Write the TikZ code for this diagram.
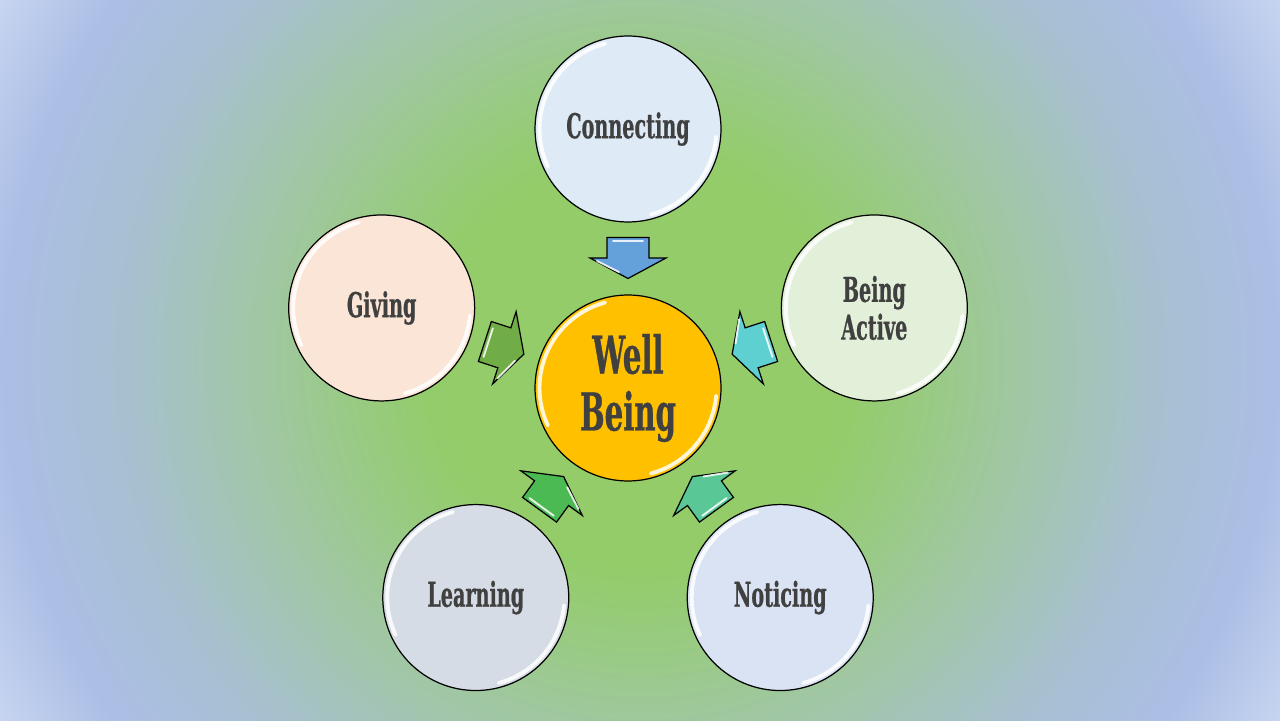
\documentclass[tikz,border=0pt]{standalone}
\usepackage{fontspec}
\newfontfamily\lblfont{DejaVu Serif}[FakeStretch=0.56, FakeBold=0.6]
\definecolor{bgA}{RGB}{147,204,105}
\definecolor{bgB}{RGB}{152,203,128}
\definecolor{bgC}{RGB}{160,199,160}
\definecolor{bgD}{RGB}{167,192,208}
\definecolor{bgE}{RGB}{172,190,230}
\definecolor{bgF}{RGB}{200,214,240}
\definecolor{txt}{RGB}{64,64,64}
\definecolor{cConn}{RGB}{222,235,247}
\definecolor{cGive}{RGB}{251,229,214}
\definecolor{cActive}{RGB}{226,240,217}
\definecolor{cLearn}{RGB}{214,220,229}
\definecolor{cNotice}{RGB}{218,227,243}
\definecolor{cCore}{RGB}{255,192,0}
\definecolor{aConn}{RGB}{100,160,218}
\definecolor{aGive}{RGB}{112,173,71}
\definecolor{aActive}{RGB}{95,208,210}
\definecolor{aLearn}{RGB}{76,186,82}
\definecolor{aNotice}{RGB}{90,200,150}
\pgfdeclareradialshading{bgshade}{\pgfpoint{0bp}{0bp}}{%
  color(0bp)=(bgA); color(7bp)=(bgA); color(9.5bp)=(bgB); color(12.5bp)=(bgC);
  color(17.5bp)=(bgD); color(21.5bp)=(bgE); color(25bp)=(bgF); color(50bp)=(bgF)}
\tikzset{
  ring/.style={circle, draw=black, line width=0.7pt, minimum size=3.72cm, inner sep=0pt,
    align=center, text=txt, font=\lblfont\bfseries\fontsize{19.5}{21.5}\selectfont},
  core/.style={circle, draw=black, line width=0.7pt, minimum size=3.72cm, inner sep=0pt,
    fill=cCore, align=center, text=txt, font=\lblfont\bfseries\fontsize{29.7}{32.4}\selectfont},
  blk/.style={draw=black, line width=0.7pt, line join=miter},
  gloss/.style={white, line width=2.2pt, opacity=0.85, line cap=round},
  shine/.style={white, line width=1.1pt, opacity=0.85, line cap=round}
}
\begin{document}
\begin{tikzpicture}[x=0.02cm, y=0.02cm]
\useasboundingbox (0,0) rectangle (1280,720);
\begin{scope}
  \clip (0,0) rectangle (1280,720);
  \shade[shading=bgshade] (640,360) circle (14.8cm);
\end{scope}
\begin{scope}[shift={(628,332)}]
  \node[core] (wb) at (0,0) {Well\\Being};
  \foreach \a/\n/\c/\t in {90/conn/cConn/Connecting, 162/give/cGive/Giving,
      234/learn/cLearn/Learning, 306/notice/cNotice/Noticing, 18/active/cActive/{Being\\Active}} {
    \node[ring, fill=\c] (\n) at (\a:259) {\t};
  }
  \foreach \n in {wb, conn, give, learn, notice, active} {
    \draw[gloss] ([shift={(105:1.77cm)}]\n.center) arc[start angle=105, end angle=205, radius=1.77cm];
    \draw[gloss] ([shift={(-75:1.77cm)}]\n.center) arc[start angle=-75, end angle=-5, radius=1.77cm];
  }
  \foreach \a/\c in {90/aConn, 162/aGive, 234/aLearn, 306/aNotice, 18/aActive} {
    \begin{scope}[shift={(\a:130)}, rotate=\a+180]
      \draw[blk, fill=\c] (-20.5,-21) -- (0,-21) -- (0,-38) -- (20.5,0) -- (0,38) -- (0,21) -- (-20.5,21) -- cycle;
      \draw[shine] (-17,-15) -- (-17,15);
      \draw[shine] (3,-31) -- (14,-9);
    \end{scope}
  }
\end{scope}
\end{tikzpicture}
\end{document}
